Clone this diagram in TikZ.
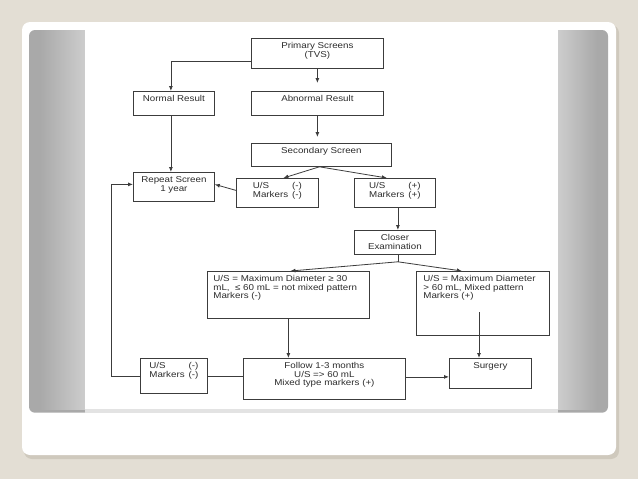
\documentclass[tikz,border=0pt]{standalone}
\usepackage{fontspec}
\setmainfont{Liberation Sans}[FakeStretch=1.15]
\usetikzlibrary{arrows.meta,calc}
\definecolor{slidebg}{HTML}{E3DED4}
\definecolor{cardshadow}{HTML}{CFC9BD}
\definecolor{banddark}{HTML}{A9A9A9}
\definecolor{bandlight}{HTML}{CDCDCD}
\definecolor{linegray}{HTML}{3C3C3C}
\definecolor{textgray}{HTML}{2C2C2C}
\newcommand{\toptext}[3]{\parbox[c][#2pt][t]{#1pt}{\vspace*{4pt}#3}}
\begin{document}
\begin{tikzpicture}[x=1pt,y=-1pt,
  box/.style={draw=linegray,line width=0.8pt,inner sep=0pt,anchor=north west,
    text=textgray,font=\fontsize{8.5}{8.7}\selectfont},
  link/.style={draw=linegray,line width=0.8pt},
  arrow/.style={link,-{Latex[length=5pt,width=4pt]}}]
  \useasboundingbox (0,0) rectangle (638,479);
  % slide
  \fill[slidebg] (0,0) rectangle (638,479);
  \fill[cardshadow,rounded corners=8pt] (24,25) rectangle (619,459);
  \fill[white,rounded corners=8pt] (22,22) rectangle (616,455);
  \fill[banddark,rounded corners=6pt] (29,30) rectangle (608,412.7);
  \shade[left color=banddark,right color=bandlight] (40,30) rectangle (85,409);
  \shade[left color=bandlight,right color=banddark] (558,30) rectangle (597,409);
  \fill[gray!22] (85,409) rectangle (558,412.7);
  \fill[white] (85,30) rectangle (558,409);
  % boxes
  \node[box] (prim) at (251,38) {\toptext{132}{30}{\centering Primary Screens\\(TVS)}};
  \node[box] (norm) at (133,91) {\toptext{81}{24}{\centering Normal Result}};
  \node[box] (abn) at (251,91) {\toptext{132}{24}{\centering Abnormal Result}};
  \node[box] (sec) at (251,143) {\toptext{140}{23}{\centering Secondary Screen}};
  \node[box] (rep) at (133,172) {\toptext{81}{29}{\centering Repeat Screen\\1 year}};
  \node[box] (usn) at (236,178) {\toptext{82}{29}{\centering
    \begin{tabular}[t]{@{}l@{\hspace{4pt}}r@{}}U/S&(-)\\Markers&(-)\end{tabular}}};
  \node[box] (usp) at (354,178) {\toptext{81}{29}{\centering
    \begin{tabular}[t]{@{}l@{\hspace{4pt}}r@{}}U/S&(+)\\Markers&(+)\end{tabular}}};
  \node[box] (clo) at (354,230) {\toptext{81}{24}{\centering Closer\\Examination}};
  \node[box] (lbig) at (207,271) {\toptext{162}{47}{\raggedright\leftskip=6pt
    U/S = Maximum Diameter ≥ 30\\mL,\ \ ≤ 60 mL = not mixed pattern\\Markers (-)}};
  \node[box] (rbig) at (416,271) {\toptext{133}{64}{\raggedright\leftskip=7pt
    U/S = Maximum Diameter\\> 60 mL, Mixed pattern\\Markers (+)}};
  \node[box] (usb) at (140,358) {\toptext{67}{35}{\centering
    \begin{tabular}[t]{@{}l@{\hspace{4pt}}r@{}}U/S&(-)\\Markers&(-)\end{tabular}}};
  \node[box] (fol) at (243,358) {\toptext{162}{41}{\centering Follow 1-3 months\\U/S => 60 mL\\Mixed type markers (+)}};
  \node[box] (surg) at (449,358) {\toptext{82}{30}{\centering Surgery}};
  % connectors
  \coordinate (pl) at ($(prim.south west)!0.25!(prim.north west)$);
  \draw[arrow] (pl) -| ([xshift=-3pt]norm.north);
  \draw[arrow,shorten >=8pt] (prim.south) -- (abn.north);
  \draw[arrow,shorten >=6pt] (abn.south) -- (abn.south |- sec.north);
  \draw[arrow] ([xshift=-3pt]norm.south) -- ([xshift=-3pt]rep.north);
  \draw[arrow] ([xshift=-2pt]sec.south) -- ([xshift=6pt]usn.north);
  \draw[arrow] ([xshift=-2pt]sec.south) -- ([xshift=-8pt]usp.north);
  \draw[arrow] ([yshift=2.5pt]usn.west) -- ([yshift=2.5pt]rep.east);
  \draw[arrow] ([xshift=3pt]usp.south) -- ([xshift=3pt]clo.north);
  \coordinate (fork) at ([xshift=3pt,yshift=-7pt]clo.south);
  \draw[link] ([xshift=3pt]clo.south) -- (fork);
  \draw[arrow] (fork) -- ([xshift=2pt]lbig.north);
  \draw[arrow] (fork) -- ([xshift=-21pt]rbig.north);
  \draw[arrow] (lbig.south) -- (lbig.south |- fol.north);
  \coordinate (rin) at (479,312);
  \draw[arrow] (rin) -- (rin |- surg.north);
  \draw[arrow] ([yshift=2pt]fol.east) -- ([yshift=2pt]fol.east -| surg.west);
  \draw[link] (usb.east) -- (usb.east -| fol.west);
  \draw[arrow] (usb.west) -- ++(-29,0) |- ([yshift=2.5pt]rep.west);
\end{tikzpicture}
\end{document}
